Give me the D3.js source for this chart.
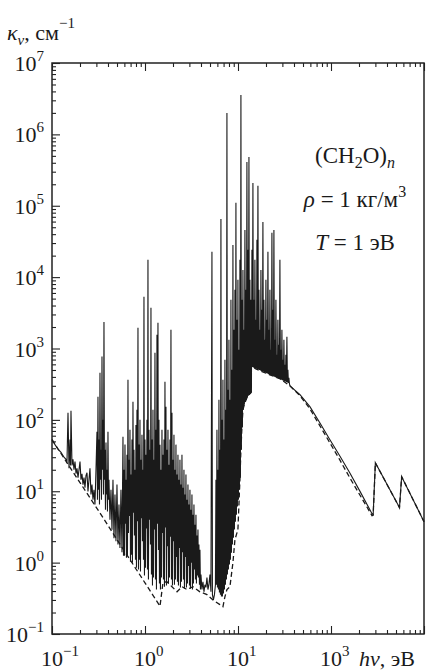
<!DOCTYPE html>
<html><head><meta charset="utf-8">
<script src="https://cdn.jsdelivr.net/npm/d3@7"></script>
<style>
html,body{margin:0;padding:0;background:#fff;}
svg{display:block;}
text{font-family:"Liberation Serif","Times New Roman",serif;fill:#1a1a1a;}
</style></head><body>
<svg id="chart" width="434" height="671" font-family="Liberation Serif, Times New Roman, serif"></svg>
<script>
// Axes: photon energy hν (eV) and absorption coefficient κν (cm^-1), both logarithmic
const xDomain = [0.1, 1000];
const yDomain = [0.1, 1e7];
const xTickValues = [0.1, 1, 10, 100];
const xTickExponents = ["−1", "0", "1", "3"];
const yTickValues = [0.1, 1, 10, 100, 1e3, 1e4, 1e5, 1e6, 1e7];
const yTickExponents = ["−1", "0", "1", "2", "3", "4", "5", "6", "7"];

// Continuous absorption only (dashed curve), [hν, κν]
const continuum = [
  [0.1,53],[0.145,25],[0.2,13.2],[0.33,4.9],[0.5,2.1],[0.7,1.07],[1.0,0.52],[1.2,0.36],[1.45,0.245],
  [1.56,0.525],[1.72,0.54],[1.95,0.46],[2.21,0.39],[2.50,0.46],[2.83,0.42],[3.28,0.46],[3.90,0.39],
  [4.64,0.356],[5.38,0.30],[6.39,0.258],[6.89,0.242],[7.24,0.334],[7.60,0.42],[8.19,0.46],[8.82,1.0],
  [9.27,2.1],[9.98,2.9],[10.49,14.5],[10.75,38],[11.02,78],[11.30,139],[11.87,174],[12.47,204],
  [13.11,225],[13.77,240],[13.94,555],[17.2,488],[22.04,428],[28.23,377],[36.14,300],[46.4,218],
  [59.3,143],[75.8,83],[97,48],[124,27.7],[159,15.5],[203,9.0],[276,4.55],[284,4.6],[300,25],
  [545,5.9],[575,16],[1000,3.75]
];

// Total absorption with spectral lines (solid curve), [hν, κν]
const spectrum = [
  // low-energy wing
  [0.100,53],[0.1077,45],[0.116,39],[0.125,35],[0.1346,30],[0.1414,28],[0.1449,25],
  [0.1486,126],[0.1523,21],[0.1561,53],[0.158,23],[0.160,134],[0.1641,23],[0.1682,28],
  [0.1724,20],[0.1767,26],[0.1812,17.6],[0.1857,21],[0.1904,15.5],[0.1951,20],[0.200,26],
  [0.205,14.5],[0.2101,17.6],[0.2154,12.4],[0.2208,15.5],[0.2263,11.2],[0.232,16.5],[0.2378,18.2],
  [0.2437,9.9],[0.2498,14.5],[0.2561,21],[0.2625,9.0],[0.2691,12.4],[0.2758,7.6],[0.2827,10.5],[0.2898,6.5],
  // group 0.3–0.42 eV
  [0.2971,20],[0.3045,68],[0.3083,7.6],[0.3121,210],[0.316,10.5],[0.320,53],[0.324,6.5],[0.328,457],
  [0.332,14.5],[0.3362,38],[0.3404,7.6],[0.3447,770],[0.349,20],[0.3533,100],[0.3577,9.0],[0.3621,2350],
  [0.3666,14.5],[0.3712,38],[0.3758,5.5],[0.3805,48],[0.3852,9.0],[0.390,20],[0.3948,5.2],[0.3998,68],
  [0.4047,7.6],[0.4098,14.5],[0.420,4.0],
  [0.4306,10.5],[0.4415,2.9],[0.4525,14.5],[0.4638,2.2],[0.4754,9.0],[0.4873,2.0],[0.4996,12.4],
  [0.5121,1.8],[0.5249,6.5],[0.538,1.6],[0.5515,10.5],[0.5655,1.4],[0.5797,58],[0.587,1.25],
  // dense band 0.6–3.9 eV
  [0.5942,20],[0.6016,1.25],[0.6091,45],[0.6167,3.5],[0.6243,14.5],[0.632,1.17],[0.640,32.5],[0.648,1.25],
  [0.656,365],[0.664,2.6],[0.6724,27.7],[0.681,4.5],[0.6892,73],[0.698,1.03],[0.7065,17.1],[0.715,1.29],
  [0.7243,53],[0.733,1.0],[0.7424,180],[0.752,5.0],[0.761,38],[0.770,2.4],[0.7801,20],[0.790,1.10],
  [0.7996,85],[0.8095,0.85],[0.8196,139],[0.830,3.8],[0.8402,1950],[0.851,0.80],[0.8612,45],[0.872,1.10],
  [0.8828,100],[0.894,0.75],[0.9049,27.7],[0.916,4.2],[0.9277,62],[0.939,2.0],[0.9509,20],[0.963,1.10],
  [0.9747,5300],[0.987,0.66],[0.9991,53],[1.0115,0.85],[1.0241,32.5],[1.037,3.0],[1.0498,100],[1.063,0.80],
  [1.0761,17500],[1.089,0.58],[1.103,73],[1.117,4.0],[1.1307,38],[1.145,1.8],[1.159,3720],[1.173,0.68],
  [1.1882,53],[1.203,0.48],[1.218,139],[1.233,0.62],[1.2485,27.7],[1.264,2.9],[1.2798,871],[1.296,0.58],
  [1.3118,73],[1.328,0.42],[1.3447,1560],[1.361,3.5],[1.3784,2290],[1.395,1.5],[1.4129,100],[1.430,0.51],
  [1.4483,45],[1.466,0.42],[1.4846,20],[1.503,0.62],[1.5219,73],[1.541,2.6],[1.560,32.5],[1.579,0.58],
  [1.5991,53],[1.619,0.46],[1.6391,342],[1.659,3.1],[1.6802,153],[1.701,0.48],[1.7223,38],[1.744,1.7],
  [1.7655,73],[1.787,0.51],[1.8097,23.5],[1.832,0.62],[1.855,53],[1.878,2.3],[1.9015,1830],[1.925,0.58],
  [1.9493,126],[1.973,0.48],[1.9981,27.7],[2.023,2.0],[2.0482,62],[2.074,0.49],[2.0995,20],[2.126,0.58],
  [2.1521,45],[2.179,1.2],[2.206,17.1],[2.233,0.54],[2.2613,32.5],[2.289,0.48],[2.3179,14.5],[2.347,1.6],
  [2.376,27.7],[2.405,0.45],[2.4355,12.4],[2.466,0.54],[2.4967,32.5],[2.528,1.4],[2.5592,11.2],[2.591,0.58],
  [2.6233,20],[2.656,0.43],[2.6891,9.0],[2.722,1.2],[2.7564,17.1],[2.791,0.45],[2.8255,7.6],[2.861,0.51],
  [2.8963,12.4],[2.932,0.9],[2.9688,6.5],[3.006,0.48],[3.0432,10.5],[3.081,0.43],[3.1195,5.5],[3.158,1.0],
  [3.1977,9.0],[3.237,0.42],[3.2778,4.7],[3.318,0.51],[3.3599,6.5],[3.402,0.8],[3.4441,3.4],[3.487,0.58],
  [3.5304,4.7],[3.574,0.51],[3.6188,2.4],[3.664,0.66],[3.7095,2.9],[3.755,0.62],[3.8024,1.79],[3.850,0.49],
  [3.8977,1.52],[3.946,0.42],
  // 4–5.7 eV
  [3.9953,0.68],[4.0957,0.42],[4.198,0.54],[4.304,0.39],[4.411,0.49],[4.522,0.45],[4.635,0.62],[4.751,0.42],
  [4.870,0.49],[4.992,0.68],[5.117,0.39],[5.246,22600],[5.31,0.356],[5.44,0.30],[5.58,0.356],[5.72,0.49],
  // strong lines 5.8–14 eV
  [5.791,14.5],[5.863,0.49],[5.936,73],[6.010,0.45],[6.085,20],[6.160,0.42],[6.237,191],[6.314,0.38],
  [6.393,38],[6.472,0.356],[6.554,65400],[6.635,0.334],[6.719,100],[6.802,0.334],[6.887,365],[6.972,0.368],
  [7.059,53],[7.146,0.42],[7.236,695],[7.326,0.49],[7.417,139],[7.509,0.58],[7.603,2.0e6],[7.697,0.68],
  [7.793,264],[7.890,0.80],[7.989,1325],[8.088,0.94],[8.189,191],[8.290,1.10],[8.394,4810],[8.498,1.38],
  [8.606,504],[8.713,1.79],[8.821,28300],[8.930,2.24],[9.042,1830],[9.154,2.9],[9.268,6640],[9.383,3.75],
  [9.500,110000],[9.618,4.7],[9.738,2520],[9.859,6.1],[9.982,9160],[10.11,7.6],[10.23,958],[10.36,10.5],
  [10.49,17500],[10.62,15.5],[10.75,3.56e6],[10.88,38],[11.02,4810],[11.16,78],[11.30,12600],[11.44,139],
  [11.58,1830],[11.72,163],[11.87,45900],[12.02,180],[12.17,6640],[12.32,191],[12.47,411000],[12.63,204],
  [12.79,24100],[12.95,218],[13.11,483000],[13.27,225],[13.43,9160],[13.60,232],[13.77,4810],[13.94,240],
  // lines above the ionization edge, 14–36 eV
  [14.12,24100],[14.29,551],[14.47,209000],[14.65,543],[14.83,4810],[15.01,535],[15.20,17500],[15.39,528],
  [15.59,2520],[15.78,520],[15.98,33300],[16.18,513],[16.38,190000],[16.58,506],[16.79,6640],[17.00,498],
  [17.21,1830],[17.42,491],[17.64,12600],[17.86,484],[18.08,3490],[18.30,477],[18.53,59400],[18.76,471],
  [19.00,4810],[19.24,464],[19.47,1325],[19.71,457],[19.96,9160],[20.21,451],[20.46,2520],[20.71,445],
  [20.98,22600],[21.24,438],[21.50,1830],[21.77,432],[22.04,6640],[22.31,426],[22.59,958],[22.87,420],
  [23.16,41700],[23.45,414],[23.74,3490],[24.03,408],[24.33,45900],[24.63,402],[24.94,1325],[25.25,397],
  [25.57,4810],[25.89,391],[26.21,817],[26.54,385],[26.86,2520],[27.19,380],[27.54,1125],[27.88,375],
  [28.23,17500],[28.58,369],[28.93,958],[29.29,364],[29.66,1830],[30.03,359],[30.40,695],[30.78,354],
  [31.16,1325],[31.55,349],[31.94,592],[32.34,344],[32.74,817],[33.15,339],[33.56,1460],[33.98,334],
  [34.40,504],[34.83,330],[35.26,389],[35.70,325],
  // smooth tail with K-edges of carbon and oxygen
  [36.14,300],[46.4,225],[59.3,153],[75.8,91],[97,53],[124,31.5],[159,18.2],[203,10.2],[276,4.85],
  [284,4.7],[300,25],[545,5.9],[575,16],[1000,3.75]
];

const svg = d3.select("#chart");
const plot = {left: 52, right: 424, top: 63, bottom: 634};

const x = d3.scaleLog().domain(xDomain).range([plot.left, plot.right]);
const y = d3.scaleLog().domain(yDomain).range([plot.bottom, plot.top]);

const isDecade = v => Math.abs(Math.log10(v) - Math.round(Math.log10(v))) < 1e-9;
const xMinor = x.ticks().filter(v => !isDecade(v));
const xMajor = x.ticks().filter(isDecade);
const yMinor = y.ticks().filter(v => !isDecade(v));
const yMajor = y.ticks().filter(isDecade);

function tickAxis(axis, values, size, transform) {
  const g = svg.append("g").attr("transform", transform)
    .call(axis.tickValues(values).tickSize(size).tickFormat(""));
  g.select(".domain").remove();
  g.selectAll(".tick line").attr("stroke", "#222").attr("stroke-width", 1.1);
}
// inward ticks: top edge pointing down, bottom edge pointing up, left edge pointing right
tickAxis(d3.axisBottom(x), xMinor, 4, `translate(0,${plot.top})`);
tickAxis(d3.axisBottom(x), xMajor, 8, `translate(0,${plot.top})`);
tickAxis(d3.axisTop(x), xMinor, 4, `translate(0,${plot.bottom})`);
tickAxis(d3.axisTop(x), xMajor, 8, `translate(0,${plot.bottom})`);
tickAxis(d3.axisRight(y), yMinor, 4, `translate(${plot.left},0)`);
tickAxis(d3.axisRight(y), yMajor, 8, `translate(${plot.left},0)`);

svg.append("rect")
  .attr("x", plot.left).attr("y", plot.top)
  .attr("width", plot.right - plot.left).attr("height", plot.bottom - plot.top)
  .attr("fill", "none").attr("stroke", "#222").attr("stroke-width", 1.5);

const line = d3.line().x(d => x(d[0])).y(d => y(d[1]));

svg.append("path").datum(continuum)
  .attr("d", line).attr("fill", "none")
  .attr("stroke", "#1a1a1a").attr("stroke-width", 1.3)
  .attr("stroke-dasharray", "5,3");

svg.append("path").datum(spectrum)
  .attr("d", line).attr("fill", "none")
  .attr("stroke", "#1a1a1a").attr("stroke-width", 1.1)
  .attr("stroke-linejoin", "miter").attr("stroke-miterlimit", 2);

// y tick labels: 10 with superscript exponent
yTickValues.forEach((v, i) => {
  const t = svg.append("text")
    .attr("x", 44).attr("y", y(v) + 8)
    .attr("text-anchor", "end").attr("font-size", 22);
  t.append("tspan").text("10");
  t.append("tspan").attr("dy", -10).attr("font-size", 15).text(yTickExponents[i]);
});

// x tick labels: "10" centred on the tick, exponent to its right
xTickValues.forEach((v, i) => {
  const t = svg.append("text")
    .attr("x", x(v) - 11).attr("y", 666)
    .attr("font-size", 22);
  t.append("tspan").text("10");
  t.append("tspan").attr("dy", -10).attr("font-size", 15).text(xTickExponents[i]);
});

// axis titles
const xt = svg.append("text").attr("x", 359).attr("y", 666).attr("font-size", 22);
xt.append("tspan").attr("font-style", "italic").text("hν");
xt.append("tspan").text(", эВ");

const yt = svg.append("text").attr("x", 7).attr("y", 40).attr("font-size", 22);
yt.append("tspan").attr("font-style", "italic").text("κ");
yt.append("tspan").attr("font-style", "italic").attr("font-size", 15).attr("dy", 5).text("ν");
yt.append("tspan").attr("dy", -5).text(", см");
yt.append("tspan").attr("font-size", 15).attr("dy", -12).text("−1");

// substance and conditions
const cx = 355;
const a1 = svg.append("text").attr("x", cx).attr("y", 163).attr("text-anchor", "middle").attr("font-size", 23);
a1.append("tspan").text("(CH");
a1.append("tspan").attr("font-size", 16).attr("dy", 5).text("2");
a1.append("tspan").attr("dy", -5).text("O)");
a1.append("tspan").attr("font-size", 16).attr("font-style", "italic").attr("dy", 5).text("n");

const a2 = svg.append("text").attr("x", cx).attr("y", 207).attr("text-anchor", "middle").attr("font-size", 23);
a2.append("tspan").attr("font-style", "italic").text("ρ");
a2.append("tspan").text(" = 1 кг/м");
a2.append("tspan").attr("font-size", 16).attr("dy", -10).text("3");

const a3 = svg.append("text").attr("x", cx).attr("y", 250).attr("text-anchor", "middle").attr("font-size", 23);
a3.append("tspan").attr("font-style", "italic").text("T");
a3.append("tspan").text(" = 1 эВ");
</script>
</body></html>
